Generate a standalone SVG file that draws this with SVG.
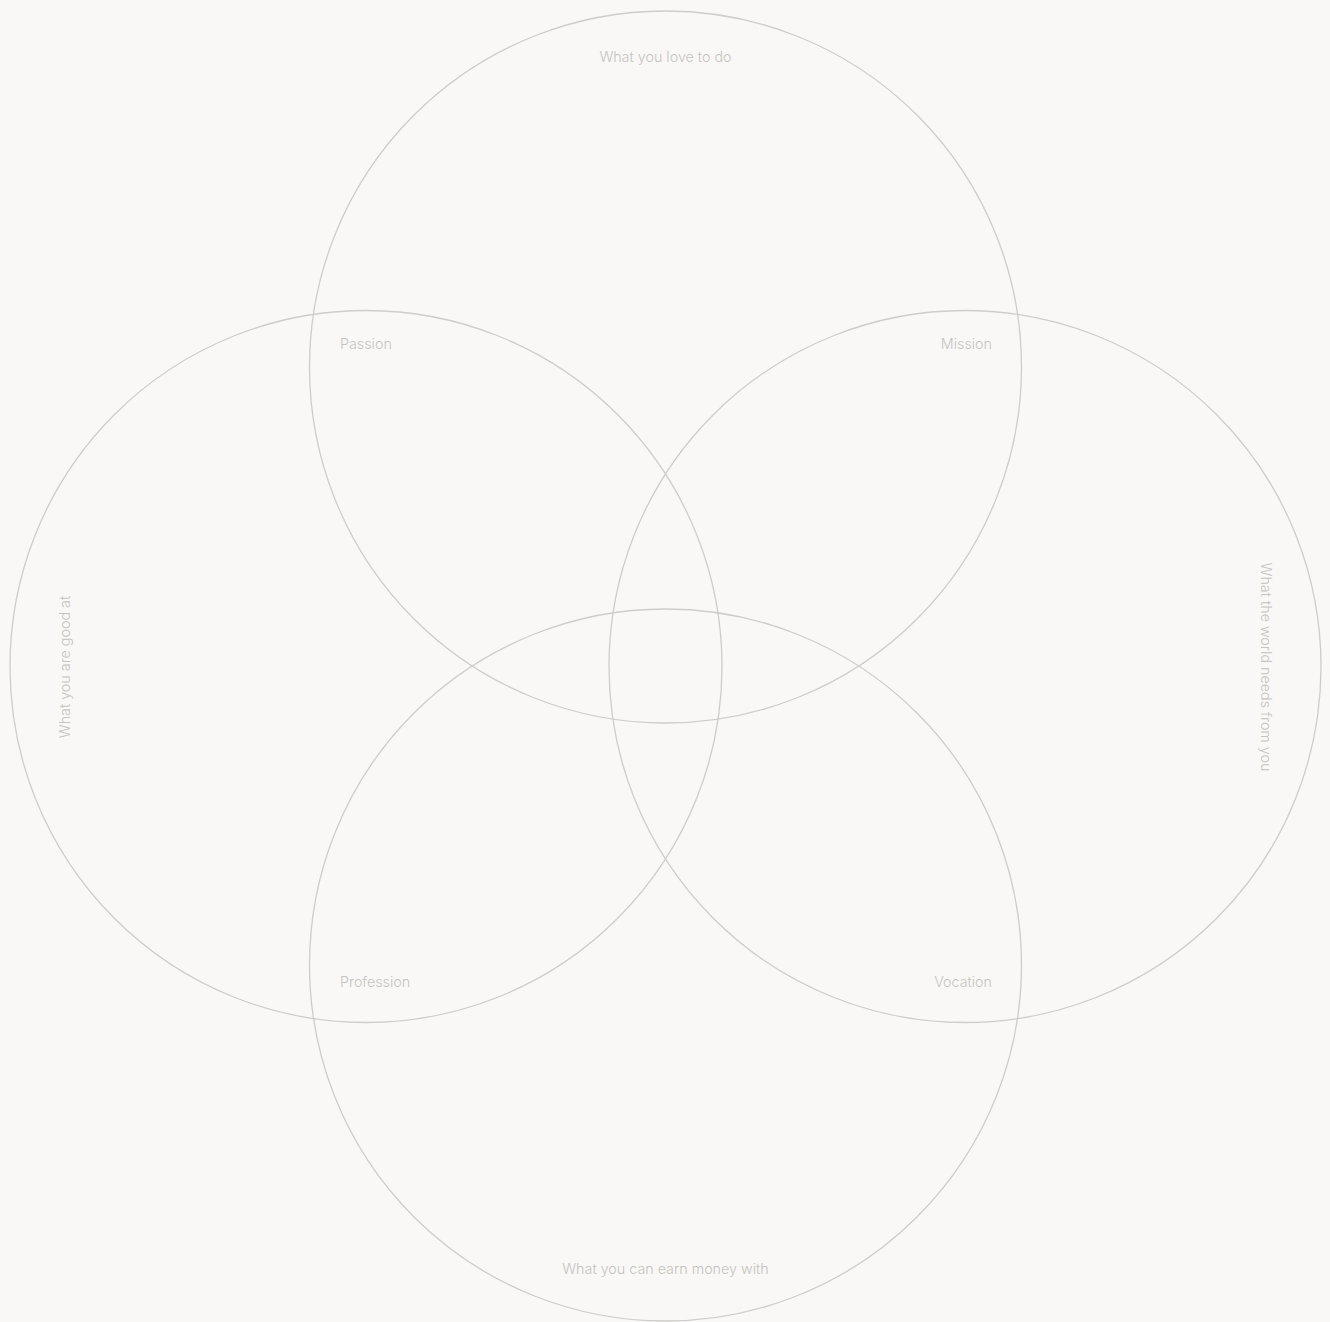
<svg xmlns="http://www.w3.org/2000/svg" width="1330" height="1322" viewBox="0 0 1330 1322">
<style>
.c{fill:none;stroke:#cfccc9;stroke-width:1.3}
.t{font-family:Inter,"Liberation Sans",sans-serif;font-size:14.3px;font-weight:300;fill:#c6c3c0}
.m{text-anchor:middle}
.e{text-anchor:end}
</style>
<rect width="1330" height="1322" fill="#f9f8f6"/>
<g id="love"><circle class="c" cx="665.5" cy="367" r="356"/><text class="t m" x="665.5" y="62">What you love to do</text></g>
<g id="good"><circle class="c" cx="366" cy="666.5" r="356"/><text class="t m" transform="translate(70,667) rotate(-90)">What you are good at</text></g>
<g id="world"><circle class="c" cx="965" cy="666.5" r="356"/><text class="t m" transform="translate(1261,667) rotate(90)">What the world needs from you</text></g>
<g id="earn"><circle class="c" cx="665.5" cy="965" r="356"/><text class="t m" x="665.5" y="1274">What you can earn money with</text></g>
<g id="passion"><text class="t" x="340" y="349">Passion</text></g>
<g id="mission"><text class="t e" x="992" y="349">Mission</text></g>
<g id="profession"><text class="t" x="340" y="987">Profession</text></g>
<g id="vocation"><text class="t e" x="992" y="987">Vocation</text></g>
<g id="connectors"></g>
</svg>
